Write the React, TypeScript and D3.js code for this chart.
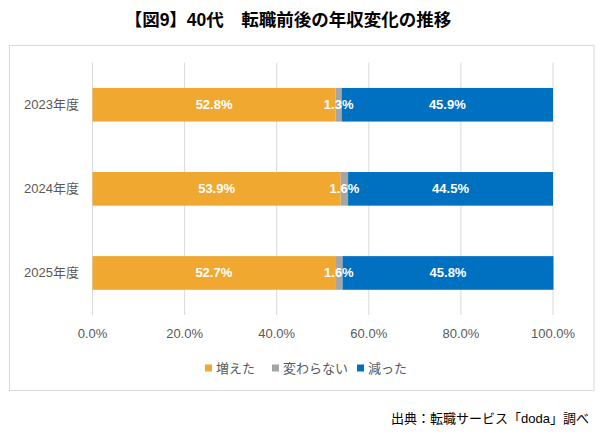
import { useEffect, useRef } from "react";
import * as d3 from "d3";

const categories = ["2023年度", "2024年度", "2025年度"];
const increased = [52.8, 53.9, 52.7];
const unchanged = [1.3, 1.6, 1.6];
const decreased = [45.9, 44.5, 45.8];
const seriesNames = ["増えた", "変わらない", "減った"];
const colors = ["#F0A830", "#A5A5A5", "#0070C0"];
const xTicks = [0, 20, 40, 60, 80, 100];

const W = 610;
const H = 436;
const FONT = "'Liberation Sans', Arial, 'Noto Sans CJK JP', sans-serif";

export default function App() {
  const ref = useRef<SVGSVGElement>(null);

  useEffect(() => {
    const svg = d3.select(ref.current);
    svg.selectAll("*").remove();

    svg.append("rect").attr("width", W).attr("height", H).attr("fill", "#fff");

    // title
    svg
      .append("text")
      .attr("x", 288)
      .attr("y", 26)
      .attr("text-anchor", "middle")
      .attr("font-family", FONT)
      .attr("font-weight", "bold")
      .attr("font-size", 17.5)
      .attr("fill", "#000")
      .text("【図9】40代　転職前後の年収変化の推移");

    // chart frame
    svg
      .append("rect")
      .attr("x", 9.5)
      .attr("y", 45.5)
      .attr("width", 584.5)
      .attr("height", 345)
      .attr("fill", "none")
      .attr("stroke", "#D9D9D9");

    const x = d3.scaleLinear().domain([0, 100]).range([92.5, 553]);
    const y = d3
      .scaleBand<string>()
      .domain(categories)
      .range([62.7, 315])
      .paddingInner(0.6)
      .paddingOuter(0.3);

    // gridlines
    svg
      .append("g")
      .selectAll("line")
      .data(xTicks)
      .join("line")
      .attr("x1", (d) => x(d))
      .attr("x2", (d) => x(d))
      .attr("y1", 62.7)
      .attr("y2", 315)
      .attr("stroke", "#D9D9D9")
      .attr("stroke-width", 1);

    // tick labels
    svg
      .append("g")
      .selectAll("text")
      .data(xTicks)
      .join("text")
      .attr("x", (d) => x(d))
      .attr("y", 338)
      .attr("text-anchor", "middle")
      .attr("font-family", FONT)
      .attr("font-size", 13)
      .attr("fill", "#595959")
      .text((d) => d.toFixed(1) + "%");

    // category labels
    svg
      .append("g")
      .selectAll("text")
      .data(categories)
      .join("text")
      .attr("x", 79)
      .attr("y", (d) => y(d)! + y.bandwidth() / 2 + 4.5)
      .attr("text-anchor", "end")
      .attr("font-family", FONT)
      .attr("font-size", 13)
      .attr("fill", "#595959")
      .text((d) => d);

    const rows = categories.map((c, i) => ({
      cat: c,
      增: increased[i],
      same: unchanged[i],
      dec: decreased[i],
    }));
    const stack = d3.stack<any>().keys(["增", "same", "dec"])(rows);

    stack.forEach((layer, si) => {
      const g = svg.append("g");
      g.selectAll("rect")
        .data(layer)
        .join("rect")
        .attr("x", (d) => x(d[0]))
        .attr("y", (d) => y(d.data.cat)!)
        .attr("width", (d) => x(d[1]) - x(d[0]))
        .attr("height", y.bandwidth())
        .attr("fill", colors[si]);
    });

    stack.forEach((layer) => {
      svg
        .append("g")
        .selectAll("text")
        .data(layer)
        .join("text")
        .attr("x", (d) => (x(d[0]) + x(d[1])) / 2)
        .attr("y", (d) => y(d.data.cat)! + y.bandwidth() / 2 + 4.5)
        .attr("text-anchor", "middle")
        .attr("font-family", FONT)
        .attr("font-weight", "bold")
        .attr("font-size", 13)
        .attr("fill", "#fff")
        .text((d) => (d[1] - d[0]).toFixed(1) + "%");
    });

    // legend
    const legendX = [205, 272, 357];
    const lg = svg.append("g");
    seriesNames.forEach((name, i) => {
      lg.append("rect")
        .attr("x", legendX[i])
        .attr("y", 364.5)
        .attr("width", 7)
        .attr("height", 7)
        .attr("fill", colors[i]);
      lg.append("text")
        .attr("x", legendX[i] + 11)
        .attr("y", 373)
        .attr("font-family", FONT)
        .attr("font-size", 13)
        .attr("fill", "#595959")
        .text(name);
    });

    // source
    svg
      .append("text")
      .attr("x", 589)
      .attr("y", 423)
      .attr("text-anchor", "end")
      .attr("font-family", FONT)
      .attr("font-size", 13)
      .attr("fill", "#000")
      .text("出典：転職サービス「doda」調べ");
  }, []);

  return (
    <svg
      ref={ref}
      width={W}
      height={H}
      style={{ position: "absolute", left: 0, top: 0 }}
    />
  );
}
